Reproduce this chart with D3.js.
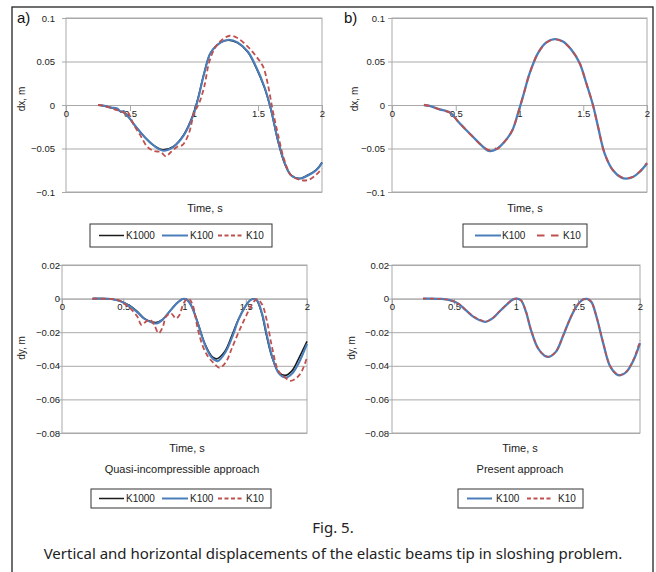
<!DOCTYPE html>
<html><head><meta charset="utf-8">
<script src="https://cdn.jsdelivr.net/npm/d3@7"></script>
<style>body{margin:0;background:#fff}svg{display:block}</style>
</head><body>
<script>
// ---------- DATA ----------
const xTickValues = [0, 0.5, 1, 1.5, 2];
const xTickLabels = ["0", "0.5", "1", "1.5", "2"];
const dxTickValues = [0.1, 0.05, 0, -0.05, -0.1];
const dxTickLabels = ["0.1", "0.05", "0", "\u22120.05", "\u22120.1"];
const dyTickValues = [0.02, 0, -0.02, -0.04, -0.06, -0.08];
const dyTickLabels = ["0.02", "0", "\u22120.02", "\u22120.04", "\u22120.06", "\u22120.08"];

// Panel a) dx, quasi-incompressible
const tA_K1000 = [0.25,0.30,0.35,0.40,0.43,0.46,0.50,0.53,0.58,0.635,0.69,0.755,0.84,0.92,0.99,1.03,1.08,1.13,1.21,1.27,1.34,1.42,1.485,1.55,1.60,1.655,1.71,1.76,1.82,1.89,1.955,2.0];
const dxA_K1000 = [0,-0.001,-0.003,-0.005,-0.008,-0.009,-0.016,-0.022,-0.031,-0.040,-0.047,-0.0515,-0.0475,-0.034,-0.012,0.007,0.037,0.060,0.072,0.0745,0.0715,0.061,0.043,0.020,-0.005,-0.041,-0.068,-0.081,-0.0845,-0.0805,-0.0745,-0.066];
const tA_K100 = [0.25,0.30,0.35,0.40,0.43,0.45,0.47,0.50,0.53,0.58,0.635,0.69,0.76,0.84,0.92,0.99,1.03,1.08,1.13,1.21,1.275,1.34,1.42,1.485,1.55,1.60,1.655,1.71,1.76,1.825,1.89,1.955,2.0];
const dxA_K100 = [0,-0.001,-0.003,-0.004,-0.008,-0.007,-0.011,-0.016,-0.022,-0.031,-0.040,-0.047,-0.0525,-0.048,-0.035,-0.0135,0.006,0.0365,0.060,0.072,0.075,0.072,0.0615,0.044,0.021,-0.004,-0.040,-0.067,-0.081,-0.0846,-0.081,-0.075,-0.0665];
const tA_K10 = [0.25,0.30,0.36,0.40,0.43,0.465,0.48,0.53,0.58,0.635,0.69,0.74,0.78,0.82,0.87,0.91,0.96,1.0,1.04,1.08,1.12,1.17,1.22,1.28,1.34,1.42,1.485,1.54,1.575,1.615,1.655,1.705,1.76,1.84,1.90,1.955,2.0];
const dxA_K10 = [0,-0.001,-0.004,-0.006,-0.007,-0.0096,-0.008,-0.023,-0.0346,-0.048,-0.053,-0.054,-0.059,-0.054,-0.048,-0.046,-0.0327,-0.0096,0.002,0.021,0.050,0.067,0.075,0.0796,0.077,0.067,0.056,0.044,0.025,-0.006,-0.033,-0.063,-0.081,-0.0865,-0.0858,-0.080,-0.073];

// Panel b) dx, present approach
const tB_K100 = [0.25,0.295,0.374,0.426,0.465,0.518,0.57,0.635,0.70,0.76,0.818,0.884,0.944,0.988,1.027,1.08,1.145,1.21,1.276,1.341,1.407,1.472,1.524,1.576,1.616,1.668,1.733,1.80,1.838,1.89,1.942,2.0];
const dxB_K100 = [0,-0.001,-0.005,-0.007,-0.0096,-0.019,-0.027,-0.0365,-0.046,-0.0527,-0.0508,-0.042,-0.029,-0.0096,0.0096,0.0365,0.0596,0.072,0.0758,0.073,0.0635,0.048,0.025,0,-0.025,-0.0558,-0.075,-0.0835,-0.0846,-0.0827,-0.077,-0.0673];
const tB_K10 = [0.25,0.295,0.374,0.426,0.465,0.518,0.57,0.635,0.70,0.765,0.80,0.825,0.884,0.944,0.988,1.027,1.08,1.145,1.21,1.276,1.341,1.407,1.472,1.524,1.576,1.616,1.668,1.733,1.80,1.838,1.89,1.942,2.0];
const dxB_K10 = [0,-0.001,-0.005,-0.007,-0.010,-0.019,-0.027,-0.037,-0.046,-0.052,-0.0495,-0.0505,-0.042,-0.029,-0.0096,0.0096,0.0365,0.0596,0.0715,0.0755,0.0725,0.0635,0.048,0.025,0,-0.025,-0.0558,-0.075,-0.083,-0.0842,-0.0825,-0.0765,-0.0665];

// Panel c) dy, quasi-incompressible
const tC_K1000 = [0.25,0.397,0.452,0.507,0.56,0.616,0.671,0.726,0.767,0.822,0.877,0.93,0.986,1.014,1.055,1.11,1.164,1.219,1.26,1.329,1.384,1.438,1.493,1.534,1.562,1.589,1.63,1.671,1.712,1.767,1.822,1.877,1.93,2.0];
const dyC_K1000 = [0,-0.0002,-0.001,-0.0024,-0.0045,-0.0078,-0.0118,-0.0137,-0.0143,-0.0124,-0.0078,-0.0033,-0.0002,-0.0004,-0.004,-0.0147,-0.0265,-0.034,-0.0359,-0.0314,-0.0225,-0.0127,-0.0049,-0.001,-0.0002,-0.001,-0.0088,-0.0225,-0.0343,-0.0437,-0.0457,-0.043,-0.036,-0.0255];
const tC_K100 = [0.25,0.397,0.452,0.507,0.56,0.616,0.671,0.726,0.77,0.822,0.877,0.93,0.986,1.014,1.055,1.11,1.164,1.219,1.27,1.335,1.39,1.44,1.495,1.537,1.565,1.592,1.633,1.675,1.716,1.77,1.83,1.88,1.935,2.0];
const dyC_K100 = [0,-0.0002,-0.001,-0.0026,-0.0048,-0.0082,-0.012,-0.014,-0.0148,-0.0125,-0.0078,-0.0033,-0.0002,-0.0004,-0.0042,-0.015,-0.027,-0.0348,-0.0372,-0.0318,-0.0228,-0.0127,-0.0049,-0.001,-0.0002,-0.001,-0.0088,-0.0225,-0.0345,-0.0445,-0.047,-0.0445,-0.038,-0.027];
const tC_K10 = [0.25,0.397,0.452,0.507,0.56,0.616,0.649,0.685,0.72,0.753,0.789,0.822,0.849,0.89,0.93,0.959,0.986,1.014,1.04,1.068,1.11,1.15,1.19,1.233,1.288,1.342,1.384,1.438,1.493,1.548,1.589,1.63,1.671,1.712,1.767,1.822,1.863,1.918,1.959,2.0];
const dyC_K10 = [0,-0.0002,-0.0006,-0.003,-0.006,-0.0108,-0.0157,-0.0137,-0.0127,-0.0157,-0.0206,-0.017,-0.0108,-0.0088,-0.0118,-0.0098,-0.004,-0.0006,-0.0004,-0.004,-0.0186,-0.0284,-0.0343,-0.038,-0.0412,-0.0373,-0.030,-0.0206,-0.0118,-0.004,-0.0004,-0.003,-0.0127,-0.028,-0.043,-0.047,-0.049,-0.047,-0.043,-0.035];

// Panel d) dy, present approach
const tD_K100 = [0.25,0.40,0.486,0.54,0.595,0.649,0.703,0.755,0.81,0.865,0.919,0.973,1.005,1.04,1.08,1.12,1.176,1.23,1.265,1.324,1.378,1.432,1.486,1.54,1.573,1.608,1.649,1.703,1.757,1.81,1.838,1.89,1.946,2.0];
const dyD_K100 = [0,-0.0002,-0.0014,-0.0033,-0.0069,-0.0104,-0.0127,-0.0138,-0.0118,-0.0078,-0.004,-0.0006,0,-0.001,-0.0078,-0.0186,-0.0294,-0.034,-0.0347,-0.0314,-0.0225,-0.0127,-0.0049,-0.0006,-0.0002,-0.002,-0.0108,-0.0265,-0.040,-0.045,-0.0457,-0.0437,-0.037,-0.0265];
const tD_K10 = [0.25,0.40,0.486,0.54,0.595,0.649,0.703,0.76,0.81,0.865,0.919,0.973,1.005,1.04,1.08,1.12,1.176,1.23,1.27,1.324,1.378,1.432,1.486,1.54,1.575,1.608,1.649,1.703,1.757,1.81,1.84,1.89,1.946,2.0];
const dyD_K10 = [0,-0.0002,-0.0013,-0.0032,-0.0067,-0.0102,-0.0125,-0.0136,-0.0117,-0.0077,-0.0039,-0.0006,0,-0.001,-0.0076,-0.0184,-0.0292,-0.0338,-0.0345,-0.0312,-0.0223,-0.0126,-0.0048,-0.0006,-0.0002,-0.002,-0.0106,-0.0262,-0.0397,-0.0448,-0.0455,-0.0434,-0.0365,-0.025];

// ---------- STYLE ----------
const COL = {K1000: "#1b1b1b", K100: "#4a7ebb", K10: "#c0504d"};
const GRID = "#a9a9a9";
const FONT = "'Liberation Sans', Arial, sans-serif";

const svg = d3.select("body").append("svg").attr("width", 656).attr("height", 572);
svg.append("rect").attr("width", 656).attr("height", 572).attr("fill", "#fff");
svg.append("rect").attr("x", 12).attr("y", 7).attr("width", 641).attr("height", 590)
  .attr("fill", "none").attr("stroke", "#222").attr("stroke-width", 1.3);

function zipSeries(t, v) { return t.map((d, i) => ({t: d, v: v[i]})); }

function drawPanel(cfg) {
  const x = d3.scaleLinear().domain([0, 2]).range([cfg.x0, cfg.x1]);
  const y = d3.scaleLinear().domain(cfg.yDomain).range([cfg.y1, cfg.y0]);
  const g = svg.append("g");
  g.append("g").attr("transform", `translate(${cfg.x0},0)`)
    .call(d3.axisLeft(y).tickValues(cfg.yTicks).tickSize(-(cfg.x1 - cfg.x0)).tickFormat(""))
    .call(s => s.select(".domain").remove())
    .call(s => s.selectAll("line").attr("stroke", GRID).attr("stroke-width", 1));
  g.append("g").attr("transform", `translate(${cfg.x0},0)`)
    .call(d3.axisLeft(y).tickValues(cfg.yTicks).tickSize(4).tickPadding(cfg.x0 - cfg.labelRight - 4)
      .tickFormat((d, i) => cfg.yLabels[i]))
    .call(s => s.select(".domain").remove())
    .call(s => s.selectAll("line").attr("stroke", GRID))
    .call(s => s.selectAll("text").attr("font-family", FONT).attr("font-size", 9.5).attr("fill", "#222"));
  g.append("rect").attr("x", cfg.x0).attr("y", cfg.y0).attr("width", cfg.x1 - cfg.x0).attr("height", cfg.y1 - cfg.y0)
    .attr("fill", "none").attr("stroke", GRID).attr("stroke-width", 1);
  g.append("g").attr("transform", `translate(0,${y(0)})`)
    .call(d3.axisBottom(x).tickValues(xTickValues).tickSize(6).tickPadding(-1)
      .tickFormat((d, i) => xTickLabels[i]))
    .call(s => s.select(".domain").attr("stroke", GRID))
    .call(s => s.selectAll("line").attr("stroke", GRID))
    .call(s => s.selectAll("text").attr("font-family", FONT).attr("font-size", 9.5).attr("fill", "#222"));
  const line = d3.line().x(d => x(d.t)).y(d => y(d.v)).curve(d3.curveCatmullRom.alpha(0.5));
  cfg.series.forEach(s => {
    g.append("path").datum(zipSeries(s.t, s.v)).attr("d", line)
      .attr("fill", "none").attr("stroke", COL[s.key]).attr("stroke-width", s.w)
      .attr("stroke-dasharray", s.dash || null).attr("stroke-linejoin", "round");
  });
  g.append("text").attr("transform", `translate(${cfg.ylabX},${cfg.ylabY}) rotate(-90)`)
    .attr("text-anchor", "middle").attr("font-family", FONT).attr("font-size", 10).attr("fill", "#222")
    .text(cfg.ylab);
  g.append("text").attr("x", cfg.xtX).attr("y", cfg.xtY).attr("text-anchor", "middle")
    .attr("font-family", FONT).attr("font-size", 11).attr("fill", "#222").text("Time, s");
  if (cfg.sub) g.append("text").attr("x", cfg.subX).attr("y", cfg.subY).attr("text-anchor", "middle")
    .attr("font-family", FONT).attr("font-size", 11).attr("fill", "#222").text(cfg.sub);
  if (cfg.tag) g.append("text").attr("x", cfg.tagX).attr("y", cfg.tagY)
    .attr("font-family", FONT).attr("font-size", 15).attr("fill", "#111").text(cfg.tag);
  const L = cfg.legend;
  g.append("rect").attr("x", L.x0).attr("y", L.y0).attr("width", L.x1 - L.x0).attr("height", L.y1 - L.y0)
    .attr("fill", "#fff").attr("stroke", "#333").attr("stroke-width", 1);
  L.items.forEach(it => {
    const cy = (L.y0 + L.y1) / 2;
    g.append("line").attr("x1", it.l0).attr("x2", it.l1).attr("y1", cy).attr("y2", cy)
      .attr("stroke", COL[it.key]).attr("stroke-width", it.w).attr("stroke-dasharray", it.dash || null);
    g.append("text").attr("x", it.tx).attr("y", cy + 3.6).attr("font-family", FONT).attr("font-size", 10)
      .attr("fill", "#222").text(it.key);
  });
}

const legend3 = (y0, y1) => ({x0: 90, x1: 272, y0, y1, items: [
  {key: "K1000", l0: 99, l1: 124, tx: 126, w: 1.5},
  {key: "K100", l0: 162, l1: 188, tx: 190, w: 2},
  {key: "K10", l0: 218, l1: 243, tx: 246, w: 1.8, dash: "4,2.5"}]});

drawPanel({x0: 66, x1: 322, y0: 18, y1: 192, yDomain: [-0.1, 0.1], yTicks: dxTickValues, yLabels: dxTickLabels,
  labelRight: 55, ylab: "dx, m", ylabX: 25, ylabY: 99, xtX: 205, xtY: 212, tag: "a)", tagX: 17, tagY: 23,
  series: [{key: "K1000", t: tA_K1000, v: dxA_K1000, w: 1.6},
           {key: "K100", t: tA_K100, v: dxA_K100, w: 2.1},
           {key: "K10", t: tA_K10, v: dxA_K10, w: 1.8, dash: "5,3"}],
  legend: legend3(224, 247)});

drawPanel({x0: 392, x1: 647, y0: 18, y1: 192, yDomain: [-0.1, 0.1], yTicks: dxTickValues, yLabels: dxTickLabels,
  labelRight: 385, ylab: "dx, m", ylabX: 358, ylabY: 99, xtX: 525, xtY: 212, tag: "b)", tagX: 344, tagY: 23,
  series: [{key: "K100", t: tB_K100, v: dxB_K100, w: 2.3},
           {key: "K10", t: tB_K10, v: dxB_K10, w: 1.8, dash: "6,5"}],
  legend: {x0: 463, x1: 587, y0: 224, y1: 247, items: [
    {key: "K100", l0: 475, l1: 501, tx: 502, w: 2},
    {key: "K10", l0: 537, l1: 559, tx: 563, w: 1.8, dash: "7.5,6.5"}]}});

drawPanel({x0: 62, x1: 307, y0: 265, y1: 433, yDomain: [-0.08, 0.02], yTicks: dyTickValues, yLabels: dyTickLabels,
  labelRight: 60, ylab: "dy, m", ylabX: 25, ylabY: 348, xtX: 187, xtY: 452,
  sub: "Quasi-incompressible approach", subX: 182, subY: 473,
  series: [{key: "K1000", t: tC_K1000, v: dyC_K1000, w: 1.6},
           {key: "K100", t: tC_K100, v: dyC_K100, w: 2.1},
           {key: "K10", t: tC_K10, v: dyC_K10, w: 1.8, dash: "5,3"}],
  legend: Object.assign(legend3(489, 508), {x0: 91, x1: 271})});

drawPanel({x0: 392, x1: 640, y0: 265, y1: 433, yDomain: [-0.08, 0.02], yTicks: dyTickValues, yLabels: dyTickLabels,
  labelRight: 389, ylab: "dy, m", ylabX: 355, ylabY: 348, xtX: 520, xtY: 452,
  sub: "Present approach", subX: 520, subY: 473,
  series: [{key: "K100", t: tD_K100, v: dyD_K100, w: 2.3},
           {key: "K10", t: tD_K10, v: dyD_K10, w: 1.6, dash: "4,3"}],
  legend: {x0: 458, x1: 583, y0: 489, y1: 508, items: [
    {key: "K100", l0: 467, l1: 492, tx: 496, w: 2},
    {key: "K10", l0: 527, l1: 552, tx: 558, w: 1.8, dash: "4,2.5"}]}});

svg.append("text").attr("x", 333).attr("y", 533).attr("text-anchor", "middle")
  .attr("font-family", "'Noto Sans', sans-serif").attr("font-size", 15).attr("fill", "#222").text("Fig. 5.");
svg.append("text").attr("x", 333).attr("y", 559).attr("text-anchor", "middle")
  .attr("font-family", "'Noto Sans', sans-serif").attr("font-size", 15).attr("fill", "#222")
  .text("Vertical and horizontal displacements of the elastic beams tip in sloshing problem.");
</script>
</body></html>
